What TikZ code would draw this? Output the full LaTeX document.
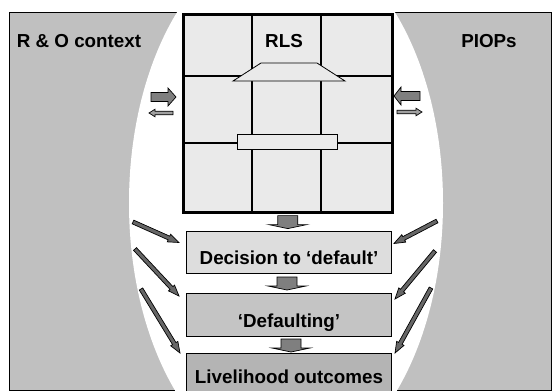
\documentclass[tikz,border=0pt]{standalone}
\usepackage{fontspec}
\setmainfont{Liberation Sans}
\usetikzlibrary{calc}
\definecolor{bggrey}{HTML}{C0C0C0}
\definecolor{cellgrey}{HTML}{EAEAEA}
\definecolor{boxA}{HTML}{DDDDDD}
\definecolor{boxB}{HTML}{C4C4C4}
\definecolor{boxC}{HTML}{B4B4B4}
\definecolor{arrdark}{HTML}{7F7F7F}
\definecolor{arrlight}{HTML}{A0A0A0}
\definecolor{arrdiag}{HTML}{666666}
\newcommand\blockarr[6]{%
  \coordinate (bah) at ($(#2)!#5!(#1)$);
  \filldraw[fill=#6,draw=black,line width=0.7pt,line join=miter]
    ($(#1)!#3!90:(#2)$) -- ($(bah)!#3!90:(#2)$) -- ($(bah)!#4!90:(#2)$) -- (#2)
    -- ($(bah)!#4!-90:(#2)$) -- ($(bah)!#3!-90:(#2)$) -- ($(#1)!#3!-90:(#2)$) -- cycle;}
\newcommand\downarr[1]{%
  \filldraw[fill=arrdark,draw=black,line width=0.7pt]
    ($(#1)+(-10,0)$) -- ($(#1)+(10,0)$) -- ($(#1)+(10,9)$) -- ($(#1)+(19,9)$)
    -- ($(#1)+(0,13)$) -- ($(#1)+(-19,9)$) -- ($(#1)+(-10,9)$) -- cycle;}
\begin{document}
\begin{tikzpicture}[x=1pt,y=-1pt,
  lbl/.style={font=\fontsize{18.8}{21}\selectfont\bfseries,inner sep=0pt,anchor=base},
  stagebox/.style={draw=black,line width=1pt,minimum width=205pt,inner sep=0pt,
    font=\fontsize{18.8}{21}\selectfont\bfseries,anchor=north west}]
\useasboundingbox (0,0) rectangle (552,391);
% background
\filldraw[fill=bggrey,draw=black,line width=0.8pt] (9,12) rectangle (551,390);
\fill[white] (286,203) ellipse [x radius=157, y radius=265];
% RLS grid
\node[draw=black,line width=2.6pt,fill=cellgrey,minimum width=209pt,minimum height=198pt,
  inner sep=0pt,anchor=north west] (grid) at (182,13) {};
\draw[line width=1.6pt] (252,13) -- (252,211) (321,13) -- (321,211)
  (182,76) -- (391,76) (182,143) -- (391,143);
\filldraw[fill=cellgrey,draw=black,line width=0.8pt] (261,63) -- (317,63) -- (345,81) -- (233,81) -- cycle;
\filldraw[fill=cellgrey,draw=black,line width=0.8pt] (237,134) rectangle (337,149);
\node[lbl] (rlslbl) at (284,47) {RLS};
% context labels
\node[lbl] (ctx) at (79,47) {R \& O context};
\node[lbl] (piops) at (489,47) {PIOPs};
% stage boxes
\node[stagebox,fill=boxA,text height=33pt,text depth=9pt] (dec) at (186,231) {Decision to ‘default’};
\node[stagebox,fill=boxB,text height=34pt,text depth=9pt] (def) at (186,293) {‘Defaulting’};
\node[stagebox,fill=boxC,text height=30pt,text depth=14pt] (liv) at (186,353) {Livelihood outcomes};
% down arrows between stages
\coordinate (d1) at ($(grid.south)+(0,2)$);
\coordinate (d2) at ($(dec.south)+(-2,3)$);
\coordinate (d3) at ($(def.south)+(2,2)$);
\downarr{d1}
\downarr{d2}
\downarr{d3}
% side arrows
\coordinate (la1) at (151,97); \coordinate (la2) at (176,97);
\coordinate (lb1) at (173,113); \coordinate (lb2) at (149,113);
\coordinate (ra1) at (420,96); \coordinate (ra2) at (394,96);
\coordinate (rb1) at (397,112); \coordinate (rb2) at (422,112);
\blockarr{la1}{la2}{4.5pt}{9pt}{8pt}{arrdark}
\blockarr{lb1}{lb2}{1.8pt}{3.8pt}{6pt}{arrlight}
\blockarr{ra1}{ra2}{4.5pt}{9pt}{7pt}{arrdark}
\blockarr{rb1}{rb2}{1.8pt}{3.8pt}{6pt}{arrlight}
% diagonal arrows
\coordinate (l1) at (133,222); \coordinate (l2) at (135,249); \coordinate (l3) at (141,289);
\coordinate (r1) at (437,221); \coordinate (r2) at (435,251); \coordinate (r3) at (431,288);
\coordinate (tl1) at ($(dec.west)+(-7,-10)$);
\coordinate (tl2) at ($(def.west)+(-7,-19)$);
\coordinate (tl3) at ($(liv.north west)+(-6,0)$);
\coordinate (tr1) at ($(dec.east)+(2,-9)$);
\coordinate (tr2) at ($(def.east)+(3,-16)$);
\coordinate (tr3) at ($(liv.north east)+(3,0)$);
\blockarr{l1}{tl1}{2pt}{4.2pt}{11pt}{arrdiag}
\blockarr{l2}{tl2}{2pt}{4.2pt}{11pt}{arrdiag}
\blockarr{l3}{tl3}{2pt}{4.2pt}{11pt}{arrdiag}
\blockarr{r1}{tr1}{2pt}{4.2pt}{11pt}{arrdiag}
\blockarr{r2}{tr2}{2pt}{4.2pt}{11pt}{arrdiag}
\blockarr{r3}{tr3}{2pt}{4.2pt}{11pt}{arrdiag}
\end{tikzpicture}
\end{document}
